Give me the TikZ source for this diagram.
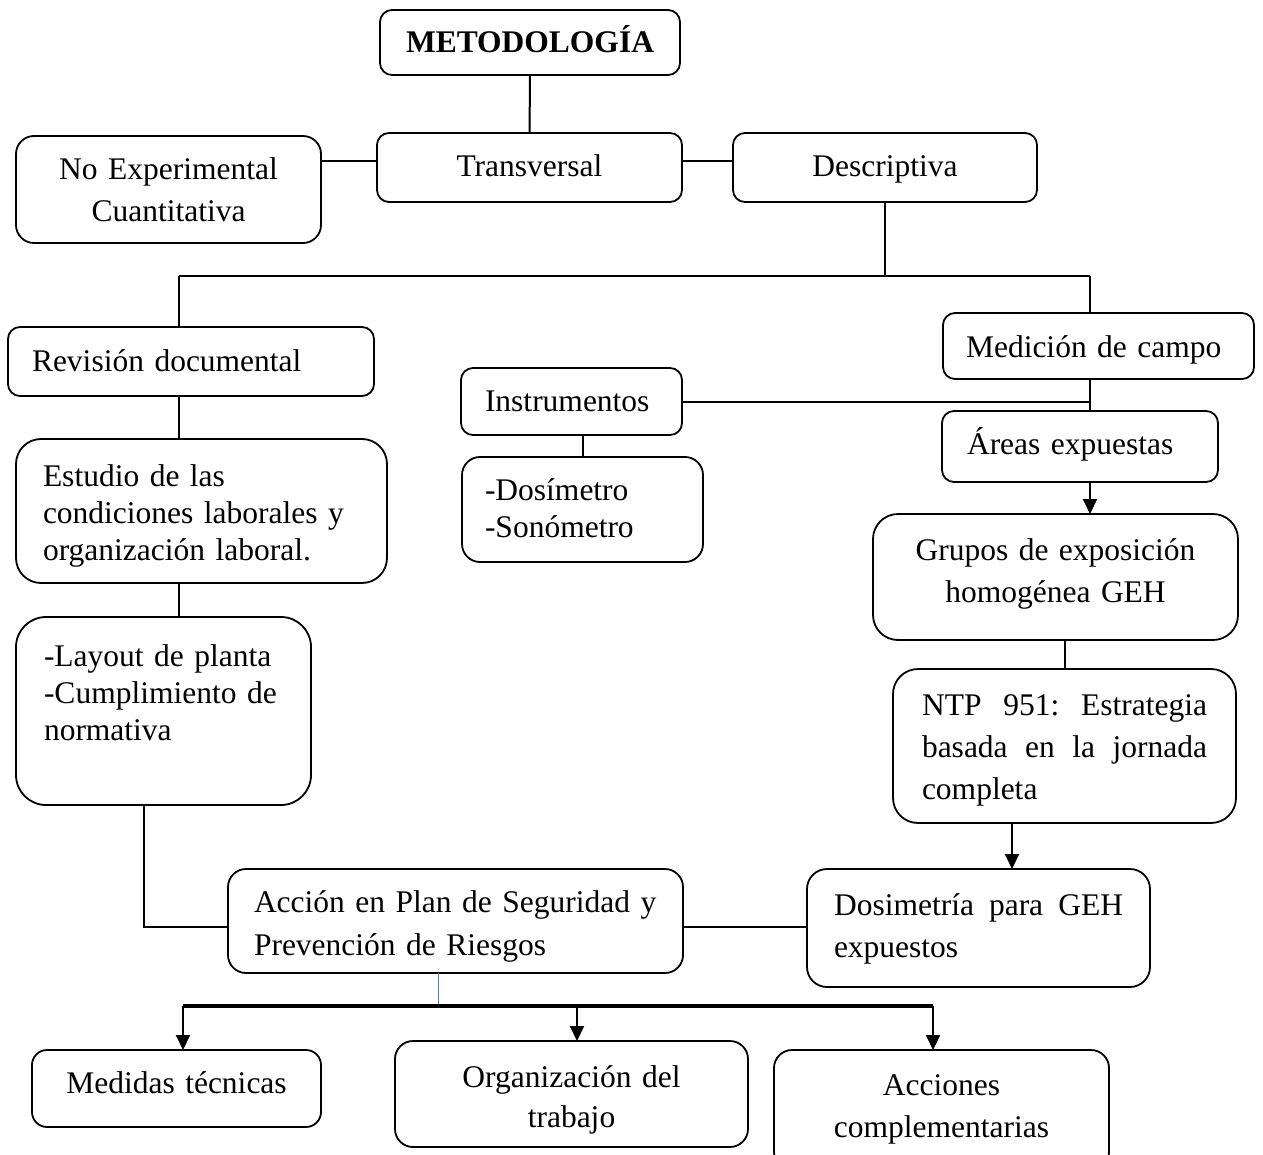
\documentclass[tikz,border=0pt]{standalone}
\usepackage{fontspec}
\setmainfont{Liberation Serif}
\usetikzlibrary{positioning, arrows.meta, calc}
\definecolor{tapblue}{HTML}{4A7EBB}

\begin{document}
\begin{tikzpicture}[x=1pt, y=-1pt,
  >={Triangle[length=15pt, width=14pt]},
  every node/.style={font=\fontsize{31.5}{37}\selectfont},
  box/.style ={draw, line width=1.8pt, rounded corners=12pt, anchor=north west, inner ysep=0pt, outer sep=0pt},
  big/.style ={box, rounded corners=25pt},
  wide/.style={font=\fontsize{31.5}{42}\selectfont},
  link/.style={line width=2pt},
  arr/.style ={->, line width=2pt},
  bus/.style ={line width=4pt},
  tap/.style ={line width=1pt, draw=tapblue},
]
  \useasboundingbox (0,0) rectangle (1263,1155);
  % top row
  \node[box, align=center, inner xsep=10pt, text width=280pt, text height=43pt, text depth=22pt, font=\fontsize{31.5}{37}\selectfont\bfseries] (metod) at (380,10) {METODOLOGÍA};
  \node[box, align=center, inner xsep=10pt, text width=285pt, text height=44pt, text depth=25pt] (trans) at (377,133) {Transversal};
  \node[box, wide, align=center, inner xsep=10pt, text width=285pt, text height=44pt, text depth=63pt, rounded corners=18pt] (noexp) at (16,136) {No Experimental\\Cuantitativa};
  \node[box, align=center, inner xsep=10pt, text width=284pt, text height=44pt, text depth=25pt] (desc) at (733,133) {Descriptiva};
  % left branch
  \node[box, align=left, inner xsep=24pt, text width=318pt, text height=44pt, text depth=25pt] (rev) at (8,327) {Revisión documental};
  \node[big, align=left, inner xsep=27pt, text width=317pt, text height=47pt, text depth=97pt] (est) at (16,439) {Estudio de las\\condiciones laborales y\\organización laboral.};
  \node[big, align=left, inner xsep=28pt, text width=239pt, text height=49pt, text depth=139pt, rounded corners=30pt] (lay) at (16,617) {-Layout de planta\\-Cumplimiento de\\normativa};
  % middle
  \node[box, align=left, inner xsep=24pt, text width=173pt, text height=43pt, text depth=24pt] (instr) at (461,368) {Instrumentos};
  \node[box, align=left, inner xsep=23pt, text width=195pt, text height=43pt, text depth=62pt, rounded corners=18pt] (dosim) at (462,457) {-Dosímetro\\-Sonómetro};
  % right branch
  \node[box, align=left, inner xsep=23pt, text width=265pt, text height=44pt, text depth=22pt] (medc) at (943,313) {Medición de campo};
  \node[box, align=left, inner xsep=25pt, text width=226pt, text height=43pt, text depth=28pt] (areas) at (942,411) {Áreas expuestas};
  \node[big, wide, align=center, inner xsep=10pt, text width=345pt, text height=46pt, text depth=80pt] (grupos) at (873,514) {Grupos de exposición\\homogénea GEH};
  \node[big, wide, align=left, inner xsep=29pt, text width=285pt, text height=46pt, text depth=108pt] (ntp) at (893,669) {NTP\hfill 951:\hfill Estrategia\\basada\hfill en\hfill la\hfill jornada\\completa};
  % actions
  \node[box, align=left, font=\fontsize{31.5}{43}\selectfont, inner xsep=26pt, text width=403pt, text height=43pt, text depth=61pt, rounded corners=18pt] (act) at (228,869) {Acción en Plan de Seguridad y\\Prevención de Riesgos};
  \node[box, wide, align=left, inner xsep=27pt, text width=289pt, text height=46pt, text depth=72pt, rounded corners=20pt] (dosi) at (807,869) {Dosimetría\hfill para\hfill GEH\\expuestos};
  \node[box, align=center, inner xsep=10pt, text width=269pt, text height=43pt, text depth=34pt, rounded corners=15pt] (medt) at (32,1050) {Medidas técnicas};
  \node[box, align=center, font=\fontsize{31.5}{40}\selectfont, inner xsep=10pt, text width=333pt, text height=46pt, text depth=60pt, rounded corners=18pt] (org) at (395,1041) {Organización del\\trabajo};
  \node[box, wide, align=center, inner xsep=10pt, text width=315pt, text height=45pt, text depth=75pt, rounded corners=18pt] (acc) at (774,1050) {Acciones\\complementarias};

  % junctions
  \coordinate (tl) at ([yshift=6pt]trans.west);
  \coordinate (tr) at ([yshift=6pt]trans.east);
  \coordinate (jL) at (179,276);
  \coordinate (jR) at (1090,276);
  \coordinate (jA) at (144,927);
  \coordinate (jN) at (1012,846);
  \coordinate (jB) at (438,1006);
  \coordinate (b1) at (183,1006);
  \coordinate (b2) at (577,1006);
  \coordinate (b3) at (933,1006);

  \draw[link] (metod) -- (trans);
  \draw[link] (tl -| noexp.east) -- (tl);
  \draw[link] (tr) -- (tr -| desc.west);
  \draw[link] (desc.south) -- (desc.south |- jL);
  \draw[link] (jL) -- (jR);
  \draw[link] (jL) -- (jL |- rev.north);
  \draw[link] (jR) -- (jR |- medc.north);
  \draw[link] (jL |- rev.south) -- (jL |- est.north);
  \draw[link] (jL |- est.south) -- (jL |- lay.north);
  \draw[link] (jA |- lay.south) -- (jA) -- (jA -| act.west);
  \draw[link] (jA -| act.east) -- (jA -| dosi.west);
  \draw[link] (jR |- medc.south) -- (jR |- areas.north);
  \draw[link] (instr.east) -- (instr.east -| jR);
  \draw[link] (dosim.north |- instr.south) -- (dosim.north);
  \draw[arr] (jR |- areas.south) -- (jR |- grupos.north);
  \draw[link] (ntp.north |- grupos.south) -- (ntp.north);
  \draw[arr] (jN |- ntp.south) -- (jN |- dosi.north);
  \draw[tap] (jB |- act.south) -- (jB);
  \draw[bus] (b1) -- (b3);
  \foreach \c/\n in {b1/medt, b2/org, b3/acc}\draw[arr] (\c) -- (\c |- \n.north);
\end{tikzpicture}
\end{document}
